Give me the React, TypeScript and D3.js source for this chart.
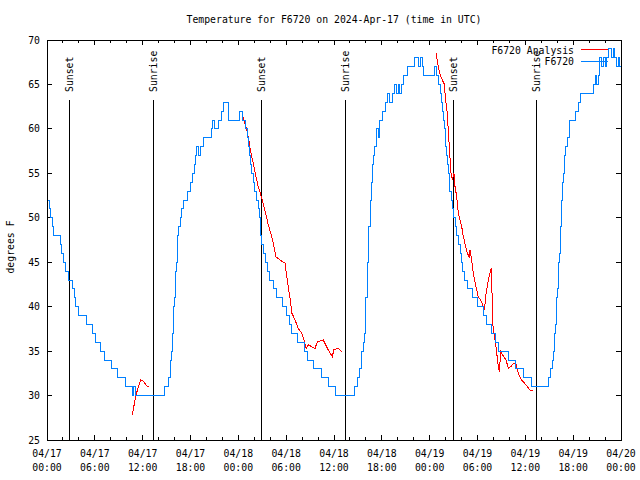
import React from 'react';
import * as d3 from 'd3';

// ---------- data (hours since 2024-04-17 00:00 UTC, degrees F) ----------
const obsSeries: [number, number][] = [
  [0.16, 52], [0.31, 51], [0.46, 50], [0.63, 49], [0.82, 48], [1.72, 47], [1.88, 46], [2.07, 45],
  [2.38, 44], [2.7, 43], [3.17, 42], [3.39, 41], [3.58, 40], [4.01, 39], [4.95, 38], [5.71, 37],
  [6.08, 36], [6.77, 35], [7.21, 34], [8.09, 33], [8.84, 32], [9.85, 31], [10.7, 30], [10.89, 31],
  [11.1, 30], [14.74, 31], [15.24, 32], [15.47, 33], [15.53, 34], [15.59, 35], [15.68, 36], [15.74, 37],
  [15.81, 38], [15.87, 39], [15.93, 40], [16.03, 41], [16.08, 42], [16.13, 43], [16.18, 44], [16.24, 45],
  [16.31, 46], [16.36, 47], [16.41, 48], [16.51, 49], [16.75, 50], [16.87, 51], [17.12, 52], [17.62, 53],
  [18.06, 54], [18.25, 55], [18.44, 56], [18.57, 57], [18.75, 58], [19.0, 57], [19.25, 58], [19.57, 59],
  [20.66, 60], [20.76, 61], [20.95, 60], [21.51, 61], [21.83, 62], [22.2, 63], [22.79, 61], [24.15, 62],
  [24.52, 61], [24.96, 60], [25.09, 59], [25.28, 58], [25.43, 57], [25.53, 56], [25.71, 55], [25.84, 54],
  [26.09, 53], [26.32, 52], [26.47, 51], [26.64, 50], [26.74, 49], [26.84, 48], [26.94, 47], [27.1, 46],
  [27.41, 45], [27.72, 44], [27.97, 43], [28.47, 42], [28.85, 41], [29.6, 40], [29.98, 39], [30.36, 38],
  [30.73, 37], [31.36, 36], [32.3, 35], [32.68, 34], [33.37, 33], [34.37, 32], [35.37, 31], [36.19, 30],
  [38.57, 31], [38.95, 32], [39.2, 33], [39.39, 34], [39.51, 35], [39.64, 36], [39.83, 37], [39.89, 39],
  [40.01, 41], [40.14, 43], [40.2, 45], [40.29, 47], [40.39, 49], [40.52, 51], [40.62, 52], [40.7, 54],
  [40.8, 56], [40.93, 57], [41.08, 58], [41.27, 60], [41.52, 59], [41.71, 61], [42.09, 62], [42.52, 63],
  [42.77, 64], [42.96, 63], [43.34, 64], [43.59, 65], [43.78, 64], [44.03, 65], [44.22, 64], [44.41, 65],
  [44.66, 66], [45.28, 67], [46.16, 68], [46.66, 67], [46.85, 68], [47.04, 67], [47.2, 66], [48.61, 67],
  [48.86, 66], [49.11, 65], [49.3, 64], [49.49, 63], [49.61, 62], [49.71, 61], [49.82, 60], [49.93, 59],
  [50.03, 58], [50.11, 57], [50.24, 56], [50.34, 55], [50.45, 54], [50.55, 53], [50.68, 52], [50.87, 51],
  [51.05, 50], [51.18, 49], [51.39, 48], [51.59, 47], [51.81, 46], [52.02, 45], [52.18, 44], [52.43, 43],
  [52.75, 42], [53.37, 41], [54.06, 40], [54.73, 39], [55.15, 38], [55.76, 37], [56.2, 36], [56.61, 35],
  [57.87, 34], [58.77, 33], [59.71, 32], [60.8, 31], [62.91, 32], [63.16, 33], [63.35, 34], [63.51, 35],
  [63.6, 36], [63.69, 37], [63.76, 38], [63.85, 39], [63.94, 41], [64.04, 42], [64.14, 44], [64.22, 45],
  [64.29, 46], [64.35, 48], [64.44, 49], [64.5, 51], [64.56, 52], [64.66, 54], [64.76, 55], [64.91, 57],
  [65.1, 58], [65.29, 59], [65.48, 60], [65.6, 61], [66.23, 62], [66.65, 63], [66.98, 64], [68.49, 65],
  [68.74, 66], [68.93, 65], [69.12, 66], [69.31, 68], [69.56, 67], [69.75, 68], [70.0, 67], [70.19, 68],
  [70.37, 69], [70.81, 68], [71.0, 69], [71.19, 68], [71.42, 67], [71.63, 68], [71.87, 67], [72.0, 67],
];

const analysisNight1: [number, number][] = [
  [10.7, 27.8], [11.04, 29.5], [11.33, 30.6], [11.75, 31.75], [12.08, 31.6], [12.58, 31.0], [12.83, 31.0],
];

const analysisNight2: [number, number][] = [
  [24.62, 61.3], [25.05, 59.9], [25.38, 58.4], [25.55, 57.4], [25.88, 56.1], [26.22, 54.6], [26.5, 53.5],
  [26.81, 52.6], [27.13, 51.6], [27.47, 50.3], [27.76, 49.2], [28.19, 47.9], [28.47, 46.75], [28.73, 45.6],
  [29.23, 45.25], [29.85, 44.9], [30.14, 43.0], [30.39, 41.5], [30.57, 40.4], [30.73, 39.25], [31.11, 38.5],
  [31.52, 37.56], [31.95, 37.0], [32.24, 36.25], [32.49, 35.3], [32.78, 35.7], [33.2, 35.5], [33.62, 35.3],
  [33.91, 36.06], [34.66, 36.25], [35.29, 35.1], [35.79, 34.4], [36.0, 35.2], [36.54, 35.3], [36.97, 34.9],
];

const analysisNight3: [number, number][] = [
  [48.79, 68.6], [49.08, 67.0], [49.38, 65.9], [49.8, 65.1], [50.05, 62.9], [50.21, 61.75], [50.46, 58.0],
  [50.68, 55.0], [50.84, 54.25], [51.05, 55.0], [51.18, 53.5], [51.39, 52.4], [51.59, 50.5], [51.81, 49.75],
  [52.02, 49.0], [52.22, 47.9], [52.43, 47.1], [52.72, 46.0], [52.97, 45.6], [53.06, 46.4], [53.27, 45.25],
  [53.48, 43.75], [53.81, 42.25], [54.1, 41.1], [54.4, 40.75], [54.73, 40.0], [54.86, 39.6], [55.07, 41.5],
  [55.36, 43.0], [55.57, 43.75], [55.7, 44.3], [55.82, 41.5], [55.91, 38.1], [56.07, 37.0], [56.32, 35.5],
  [56.61, 33.25], [56.74, 32.7], [56.91, 34.94], [57.16, 34.56], [57.58, 34.0], [57.87, 33.06], [58.17, 33.25],
  [58.49, 33.6], [58.79, 33.7], [59.12, 32.5], [59.54, 31.75], [60.08, 31.2], [60.59, 30.6], [61.0, 30.6],
];

const sunsetHours = [2.8, 26.88, 50.95];
const sunriseHours = [13.33, 37.4, 61.37];

const xTickHours = [0, 6, 12, 18, 24, 30, 36, 42, 48, 54, 60, 66, 72];
const xTickDates = ['04/17', '04/17', '04/17', '04/17', '04/18', '04/18', '04/18', '04/18', '04/19', '04/19', '04/19', '04/19', '04/20'];
const xTickTimes = ['00:00', '06:00', '12:00', '18:00', '00:00', '06:00', '12:00', '18:00', '00:00', '06:00', '12:00', '18:00', '00:00'];
const yTickValues = [25, 30, 35, 40, 45, 50, 55, 60, 65, 70];

const titleText = 'Temperature for F6720 on 2024-Apr-17 (time in UTC)';
const yLabelText = 'degrees F';
const legendLabels = ['F6720 Analysis', 'F6720'];

// ---------- layout ----------
const W = 640;
const H = 480;
const L = 47;
const R = 621;
const T = 40;
const B = 440;
const FONT = '"DejaVu Sans Mono", monospace';
const BLUE = '#0080ff';
const RED = '#ff0000';

export default function App() {
  const x = d3.scaleLinear().domain([0, 72]).range([L, R]);
  const y = d3.scaleLinear().domain([25, 70]).range([B, T]);

  const stepLine = d3
    .line<[number, number]>()
    .x((d) => x(d[0]))
    .y((d) => y(d[1]))
    .curve(d3.curveStepAfter);
  const plainLine = d3
    .line<[number, number]>()
    .x((d) => x(d[0]))
    .y((d) => y(d[1]));

  const minorTicks = d3.range(0, 73, 2).filter((h) => h % 6 !== 0);

  return (
    <svg
      width={W}
      height={H}
      style={{ position: 'absolute', left: 0, top: 0, background: '#fff' }}
      fontFamily={FONT}
      fontSize={9.8}
    >
      <rect x={0} y={0} width={W} height={H} fill="#fff" />
      <text x={(L + R) / 2} y={23} textAnchor="middle" fill="#000">
        {titleText}
      </text>

      {/* frame */}
      <rect x={L} y={T} width={R - L} height={B - T} fill="none" stroke="#000" strokeWidth={1} shapeRendering="crispEdges" />

      {/* x ticks */}
      <g stroke="#000" strokeWidth={1} shapeRendering="crispEdges">
        {xTickHours.map((h) => (
          <g key={'xt' + h}>
            <line x1={x(h)} x2={x(h)} y1={B} y2={B - 5} />
            <line x1={x(h)} x2={x(h)} y1={T} y2={T + 5} />
          </g>
        ))}
        {minorTicks.map((h) => (
          <g key={'xm' + h}>
            <line x1={x(h)} x2={x(h)} y1={B} y2={B - 3} />
            <line x1={x(h)} x2={x(h)} y1={T} y2={T + 3} />
          </g>
        ))}
        {yTickValues.map((v) => (
          <g key={'yt' + v}>
            <line x1={L} x2={L + 5} y1={y(v)} y2={y(v)} />
            <line x1={R} x2={R - 5} y1={y(v)} y2={y(v)} />
          </g>
        ))}
      </g>

      {/* tick labels */}
      {xTickHours.map((h, i) => (
        <g key={'xl' + h}>
          <text x={x(h)} y={457} textAnchor="middle" fill="#000">
            {xTickDates[i]}
          </text>
          <text x={x(h)} y={471} textAnchor="middle" fill="#000">
            {xTickTimes[i]}
          </text>
        </g>
      ))}
      {yTickValues.map((v) => (
        <text key={'yl' + v} x={40} y={y(v) + 3.5} textAnchor="end" fill="#000">
          {v}
        </text>
      ))}
      <text transform={`translate(14,247) rotate(-90)`} textAnchor="middle" fill="#000">
        {yLabelText}
      </text>

      {/* sun lines */}
      <g stroke="#000" strokeWidth={1} shapeRendering="crispEdges">
        {sunsetHours.concat(sunriseHours).map((h) => (
          <line key={'sl' + h} x1={x(h)} x2={x(h)} y1={100} y2={B} />
        ))}
      </g>
      {sunsetHours.map((h) => (
        <text key={'ss' + h} transform={`translate(${x(h) + 4},92) rotate(-90)`} fill="#000">
          Sunset
        </text>
      ))}
      {sunriseHours.map((h) => (
        <text key={'sr' + h} transform={`translate(${x(h) + 4},92) rotate(-90)`} fill="#000">
          Sunrise
        </text>
      ))}

      {/* data */}
      {[analysisNight1, analysisNight2, analysisNight3].map((s, i) => (
        <path key={'a' + i} d={plainLine(s) || ''} fill="none" stroke={RED} strokeWidth={1} shapeRendering="crispEdges" />
      ))}
      <path d={stepLine(obsSeries) || ''} fill="none" stroke={BLUE} strokeWidth={1} shapeRendering="crispEdges" />

      {/* legend */}
      <text x={574} y={54} textAnchor="end" fill="#000">
        {legendLabels[0]}
      </text>
      <line x1={581} x2={608} y1={49.5} y2={49.5} stroke={RED} strokeWidth={1} shapeRendering="crispEdges" />
      <text x={574} y={65} textAnchor="end" fill="#000">
        {legendLabels[1]}
      </text>
      <line x1={581} x2={608} y1={61.5} y2={61.5} stroke={BLUE} strokeWidth={1} shapeRendering="crispEdges" />
    </svg>
  );
}
